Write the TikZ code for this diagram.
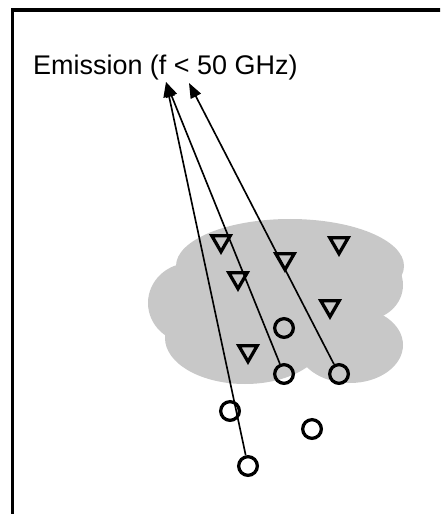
\documentclass[tikz,border=0pt]{standalone}
\usepackage{fontspec}
\setmainfont{Liberation Sans}
\usetikzlibrary{shapes.geometric,arrows.meta}
\definecolor{cloudgray}{RGB}{200,200,200}
\tikzset{
	src/.style={circle,draw,line width=2.8pt,minimum size=0.56cm,inner sep=0pt},
	tri/.style={regular polygon,regular polygon sides=3,shape border rotate=180,
		draw,line width=2.8pt,minimum size=0.64cm,inner sep=0pt},
}

\begin{document}
\begin{tikzpicture}[x=0.03cm,y=-0.03cm]
		\useasboundingbox (0,0) rectangle (440,514);
		\clip (0,0) rectangle (440,514);
		% frame
		\draw[line width=2.8pt] (12.5,530) -- (12.5,10) -- (460,10);
		% cloud
		\fill[cloudgray] (290,266) ellipse (114 and 47);
		\fill[cloudgray] (365,285) ellipse (38 and 35);
		\fill[cloudgray] (190,303) ellipse (42 and 40);
		\fill[cloudgray] (245,338) ellipse (80 and 46);
		\fill[cloudgray] (350,345) ellipse (53 and 38);
		\fill[cloudgray] (232,296) ellipse (58 and 62);
		\fill[cloudgray] (315,315) ellipse (45 and 28);
		%
		\node[anchor=base west,inner sep=0pt,font=\fontsize{23}{27}\selectfont] (title) at (33,75) {Emission (f < 50 GHz)};
		\coordinate (tipA) at (166,82);
		\coordinate (tipB) at (189,83);
		% scatterers
		\node[tri] (t1) at (221,241) {};
		\node[tri] (t2) at (285,259) {};
		\node[tri] (t3) at (339,243) {};
		\node[tri] (t4) at (238,278) {};
		\node[tri] (t5) at (330,306) {};
		\node[tri] (t6) at (248,351) {};
		% sources
		\node[src] (o1) at (284,328) {};
		\node[src] (o2) at (284,374) {};
		\node[src] (o3) at (339,374) {};
		\node[src] (o4) at (230,411) {};
		\node[src] (o5) at (312,429) {};
		\node[src] (o6) at (248,466) {};
		%
		\path[-{Triangle[length=0.45cm,width=0.34cm]},line width=1.4pt]
		(o6) edge (tipA)
		(o2) edge (tipA)
		(o3) edge (tipB);
	\end{tikzpicture}
\end{document}
